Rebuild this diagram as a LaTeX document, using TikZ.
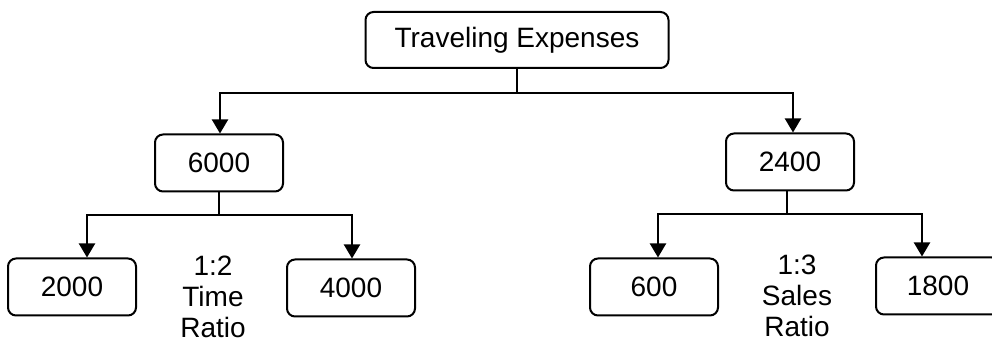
\documentclass[tikz,border=0pt]{standalone}
\usepackage{fontspec}
\setmainfont{Liberation Sans}
\usetikzlibrary{arrows.meta}
\begin{document}
\begin{tikzpicture}[x=0.5pt, y=-0.5pt, line width=1pt,
  font=\fontsize{14}{15.5}\selectfont,
  box/.style={draw, rounded corners=4pt, minimum width=64pt, minimum height=28.5pt, inner sep=0pt},
  ratio/.style={align=center, inner sep=0pt},
  >={Triangle[width=8pt,length=7pt]}]
\clip (0,0) rectangle (992,341);

% top
\node[box, minimum width=151.5pt, minimum height=28pt] (top) at (517,40) {Traveling Expenses};

% second row
\node[box] (b6000) at (219,163) {6000};
\node[box] (b2400) at (790,162) {2400};

% third row
\node[box] (b2000) at (72,287) {2000};
\node[box] (b4000) at (351,288) {4000};
\node[box] (b600) at (654,287) {600};
\node[box, minimum width=62pt] (b1800) at (938,286) {1800};

\node[ratio] (tratio) at (213,297) {1:2\\Time\\Ratio};
\node[ratio] (sratio) at (797,296) {1:3\\Sales\\Ratio};

% connectors
\draw (top.south) -- ++(0,24) coordinate (tj);
\draw[->] (tj) -| ([xshift=0.5pt]b6000.north);
\draw[->] (tj) -| ([xshift=1.5pt]b2400.north);

\draw (b6000.south) -- ++(0,23) coordinate (lj);
\draw[->] (lj) -| ([xshift=7.5pt]b2000.north);
\draw[->] (lj) -| ([xshift=0.5pt]b4000.north);

\draw ([xshift=-1.5pt]b2400.south) -- ++(0,23) coordinate (rj);
\draw[->] (rj) -| ([xshift=2pt]b600.north);
\draw[->] (rj) -| ([xshift=-8pt]b1800.north);

\end{tikzpicture}
\end{document}
